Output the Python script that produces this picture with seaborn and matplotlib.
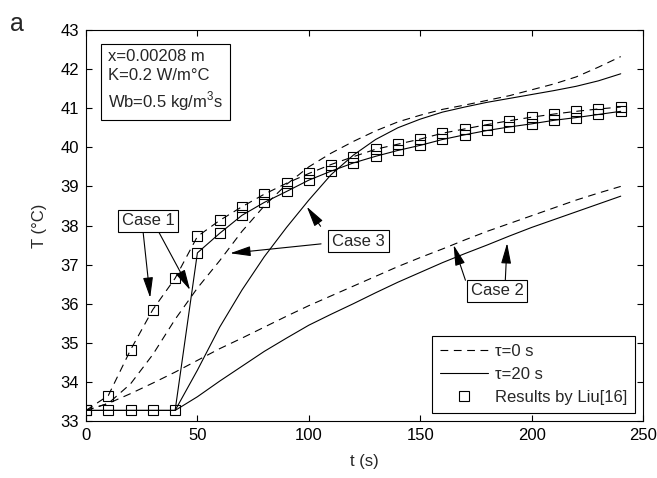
import matplotlib
matplotlib.use("Agg")
import matplotlib.pyplot as plt
from matplotlib.lines import Line2D
import seaborn as sns
import numpy as np

# ---- data ----
t_liu = [0, 10, 20, 30, 40, 50, 60, 70, 80, 90, 100, 110, 120, 130, 140, 150,
         160, 170, 180, 190, 200, 210, 220, 230, 240]
case1_tau0 = [33.27, 33.65, 34.82, 35.85, 36.65, 37.72, 38.13, 38.48, 38.80, 39.08,
              39.33, 39.56, 39.76, 39.95, 40.08, 40.21, 40.36, 40.47, 40.58, 40.68,
              40.77, 40.85, 40.92, 40.98, 41.03]
case1_tau20 = [33.27, 33.27, 33.27, 33.27, 33.27, 37.30, 37.80, 38.26, 38.59, 38.87,
               39.16, 39.39, 39.60, 39.77, 39.92, 40.05, 40.20, 40.32, 40.43, 40.52,
               40.60, 40.69, 40.76, 40.84, 40.92]

t_model = t_liu
case2_tau0 = [33.27, 33.45, 33.70, 33.97, 34.25, 34.55, 34.85, 35.12, 35.40, 35.68,
              35.95, 36.20, 36.45, 36.70, 36.95, 37.18, 37.40, 37.63, 37.85, 38.05,
              38.25, 38.45, 38.65, 38.83, 39.00]
case2_tau20 = [33.27, 33.27, 33.27, 33.27, 33.27, 33.62, 34.02, 34.40, 34.78, 35.12,
               35.45, 35.73, 36.00, 36.28, 36.55, 36.80, 37.05, 37.28, 37.50, 37.73,
               37.95, 38.15, 38.35, 38.55, 38.75]
case3_tau0 = [33.27, 33.45, 33.95, 34.70, 35.60, 36.40, 37.10, 37.85, 38.50, 39.05,
              39.50, 39.85, 40.15, 40.42, 40.65, 40.82, 40.97, 41.08, 41.20, 41.32,
              41.47, 41.62, 41.80, 42.05, 42.32]
case3_tau20 = [33.27, 33.27, 33.27, 33.27, 33.27, 34.30, 35.40, 36.35, 37.20, 37.95,
               38.65, 39.30, 39.80, 40.20, 40.50, 40.72, 40.90, 41.03, 41.15, 41.25,
               41.35, 41.45, 41.56, 41.70, 41.88]

x_ticks = [0, 50, 100, 150, 200, 250]
y_ticks = [33, 34, 35, 36, 37, 38, 39, 40, 41, 42, 43]

# ---- style ----
sns.set_style("ticks")
plt.rcParams["font.family"] = ["Liberation Sans", "DejaVu Sans"]
plt.rcParams["mathtext.fontset"] = "custom"
plt.rcParams["mathtext.rm"] = "Liberation Sans"

FS = 12
LW = 0.8
DASH = (0, (7, 5))

fig = plt.figure(figsize=(6.57, 4.78), dpi=100)
ax = fig.add_axes([86 / 657, 1 - 421 / 478, (643 - 86) / 657, (421 - 30) / 478])

kw = dict(ax=ax, color="k", linewidth=LW, legend=False)
sns.lineplot(x=t_model, y=case2_tau0, linestyle=DASH, **kw)
sns.lineplot(x=t_model, y=case2_tau20, linestyle="-", **kw)
sns.lineplot(x=t_model, y=case3_tau0, linestyle=DASH, **kw)
sns.lineplot(x=t_model, y=case3_tau20, linestyle="-", **kw)

mkw = dict(marker="s", markersize=7, markerfacecolor="none",
           markeredgecolor="k", markeredgewidth=LW)
sns.lineplot(x=t_liu, y=case1_tau0, linestyle=DASH, **mkw, **kw)
sns.lineplot(x=t_liu, y=case1_tau20, linestyle="-", **mkw, **kw)

ax.set_xlim(0, 250)
ax.set_ylim(33, 43)
ax.set_xticks(x_ticks)
ax.set_yticks(y_ticks)
ax.tick_params(direction="in", length=4, width=LW, top=True, right=True,
               labelsize=FS, pad=5, colors="k")
for s in ax.spines.values():
    s.set_linewidth(LW)
    s.set_color("k")
    s.set_visible(True)

ax.set_xlabel("t (s)", fontsize=FS, labelpad=8)
ax.set_ylabel("T (°C)", fontsize=FS, labelpad=10)

# parameter box
ax.text(0.0395, 0.952, "x=0.00208 m\nK=0.2 W/m°C\nWb=0.5 kg/m$^3$s",
        transform=ax.transAxes, ha="left", va="top", fontsize=FS, linespacing=1.35,
        bbox=dict(boxstyle="square,pad=0.42", fc="w", ec="k", lw=LW))

# case labels with arrows
bbox_c = dict(boxstyle="square,pad=0.22", fc="w", ec="k", lw=LW)
aprops = dict(arrowstyle="-|>,head_width=0.22,head_length=0.9", color="k", lw=LW,
              mutation_scale=14, shrinkA=0, shrinkB=0)

ax.annotate("", xy=(28.8, 36.15), xytext=(25.6, 37.85), arrowprops=aprops)
ax.annotate("", xy=(46.7, 36.35), xytext=(32.5, 37.85), arrowprops=aprops)
ax.text(27.9, 38.12, "Case 1", ha="center", va="center", fontsize=FS, bbox=bbox_c)

ax.annotate("", xy=(64.7, 37.29), xytext=(105.5, 37.53), arrowprops=aprops)
ax.annotate("", xy=(99.1, 38.48), xytext=(105.3, 37.98), arrowprops=aprops)
ax.text(122.3, 37.6, "Case 3", ha="center", va="center", fontsize=FS, bbox=bbox_c)

ax.annotate("", xy=(165.0, 37.5), xytext=(170.3, 36.6), arrowprops=aprops)
ax.annotate("", xy=(189.0, 37.55), xytext=(188.2, 36.6), arrowprops=aprops)
ax.text(184.5, 36.33, "Case 2", ha="center", va="center", fontsize=FS, bbox=bbox_c)

# legend
handles = [
    Line2D([], [], color="k", lw=LW, linestyle=DASH),
    Line2D([], [], color="k", lw=LW, linestyle="-"),
    Line2D([], [], color="k", lw=0, marker="s", markersize=7,
           markerfacecolor="none", markeredgecolor="k", markeredgewidth=LW),
]
labels = ["τ=0 s", "τ=20 s", "Results by Liu[16]"]
leg = ax.legend(handles, labels, loc="lower right", fontsize=FS, frameon=True,
                fancybox=False, framealpha=1, edgecolor="k", handlelength=2.9,
                handletextpad=0.4, labelspacing=0.5, borderaxespad=0.5,
                borderpad=0.45)
leg.get_frame().set_linewidth(LW)

fig.text(10 / 657, 1 - 24 / 478, "a", fontsize=18, ha="left", va="center")

fig.savefig("out.png", dpi=100)
